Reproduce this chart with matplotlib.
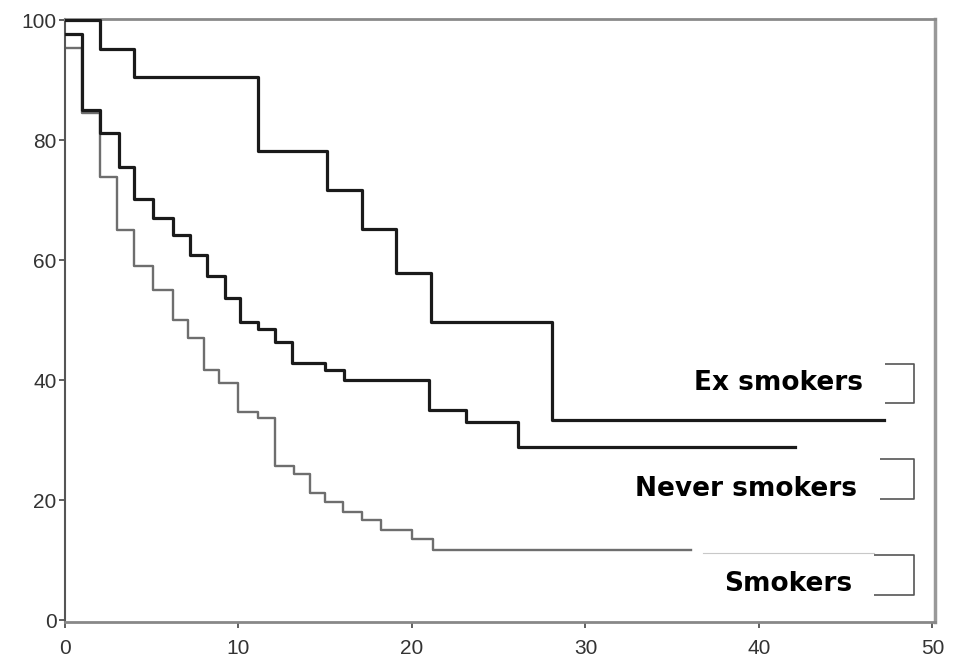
import matplotlib
matplotlib.use("Agg")
import matplotlib.pyplot as plt
from matplotlib.patches import Rectangle
from matplotlib.lines import Line2D

# ---- data ----
ex_t = [0, 2.0, 4.0, 11.1, 15.1, 17.1, 19.1, 21.1, 28.1, 47.2]
ex_s = [100, 95.2, 90.5, 78.2, 71.7, 65.2, 57.8, 49.7, 33.3, 33.3]

never_t = [0, 1.0, 2.0, 3.1, 4.0, 5.1, 6.2, 7.2, 8.2, 9.2, 10.1, 11.1, 12.1,
           13.1, 15.0, 16.1, 21.0, 23.1, 26.1, 42.1]
never_s = [97.7, 85.0, 81.2, 75.5, 70.2, 67.0, 64.2, 60.8, 57.3, 53.7, 49.7,
           48.6, 46.4, 42.9, 41.7, 40.1, 35.1, 33.1, 28.9, 28.9]

smokers_t = [0, 1.0, 2.0, 3.0, 4.0, 5.1, 6.2, 7.1, 8.0, 8.9, 10.0, 11.1, 12.1,
             13.2, 14.1, 15.0, 16.0, 17.1, 18.2, 20.0, 21.2, 36.1]
smokers_s = [95.3, 84.5, 73.9, 65.0, 59.0, 55.0, 50.0, 47.0, 41.7, 39.5, 34.7,
             33.7, 25.7, 24.3, 21.2, 19.7, 18.1, 16.7, 15.0, 13.6, 11.7, 11.7]

labels = ["Ex smokers", "Never smokers", "Smokers"]
x_ticks = [0, 10, 20, 30, 40, 50]
y_ticks = [0, 20, 40, 60, 80, 100]

# ---- figure ----
W, H = 961, 657
fig = plt.figure(figsize=(W / 100, H / 100), dpi=100)
L, R, T, B = 65, 935, 19, 622
ax = fig.add_axes([L / W, 1 - B / H, (R - L) / W, (B - T) / H])

ax.step(ex_t, ex_s, where="post", color="#1a1a1a", lw=2.3, zorder=3)
ax.step(never_t, never_s, where="post", color="#1a1a1a", lw=2.3, zorder=3)
ax.step(smokers_t, smokers_s, where="post", color="#6e6e6e", lw=1.7, zorder=2)

ax.set_xlim(0, 50.15)
ax.set_ylim(-0.3, 100.2)
ax.set_xticks(x_ticks)
ax.set_yticks(y_ticks)
tick_font = dict(family="Liberation Sans", size=15, color="#333333")
ax.set_xticklabels([str(v) for v in x_ticks], **tick_font)
ax.set_yticklabels([str(v) for v in y_ticks], **tick_font)
ax.tick_params(axis="both", direction="out", length=4, width=1.2, color="#444444")
ax.tick_params(axis="x", pad=8)
ax.tick_params(axis="y", pad=2)

ax.spines["left"].set_color("#555555")
ax.spines["left"].set_linewidth(1.5)
ax.spines["bottom"].set_color("#888888")
ax.spines["bottom"].set_linewidth(2.0)
ax.spines["top"].set_color("#8a8a8a")
ax.spines["top"].set_linewidth(2.0)
ax.spines["right"].set_color("#999999")
ax.spines["right"].set_linewidth(2.5)


def fx(px):
    return (px - L) / (R - L)


def fy(py):
    return (B - py) / (B - T)


# brackets (partially hidden legend markers)
brackets = [(885, 914, 364, 403), (880, 914, 459, 499), (874, 914, 555, 595)]
for x0, x1, y0, y1 in brackets:
    ax.add_line(Line2D([fx(x0), fx(x1), fx(x1), fx(x0)],
                       [fy(y0), fy(y0), fy(y1), fy(y1)],
                       transform=ax.transAxes, color="#555555", lw=1.2,
                       zorder=4, clip_on=False))

# white boxes behind labels
boxes = [(680, 885, 362, 406), (618, 880, 452, 510), (703, 874, 553, 613)]
for x0, x1, y0, y1 in boxes:
    ax.add_patch(Rectangle((fx(x0), fy(y1)), fx(x1) - fx(x0), fy(y0) - fy(y1),
                           transform=ax.transAxes, facecolor="white",
                           edgecolor="none", zorder=5, clip_on=False))
# faint top edge of the Smokers box
ax.add_line(Line2D([fx(703), fx(874)], [fy(553), fy(553)],
                   transform=ax.transAxes, color="#c8c8c8", lw=0.8, zorder=5.5))

# labels
label_pos = [(863, 383), (857, 489), (852, 584)]
for text, (px, py) in zip(labels, label_pos):
    ax.text(fx(px), fy(py), text, transform=ax.transAxes, ha="right",
            va="center", family="DejaVu Sans", weight="bold", size=19,
            color="black", zorder=6)

fig.savefig("out.png", dpi=100)
